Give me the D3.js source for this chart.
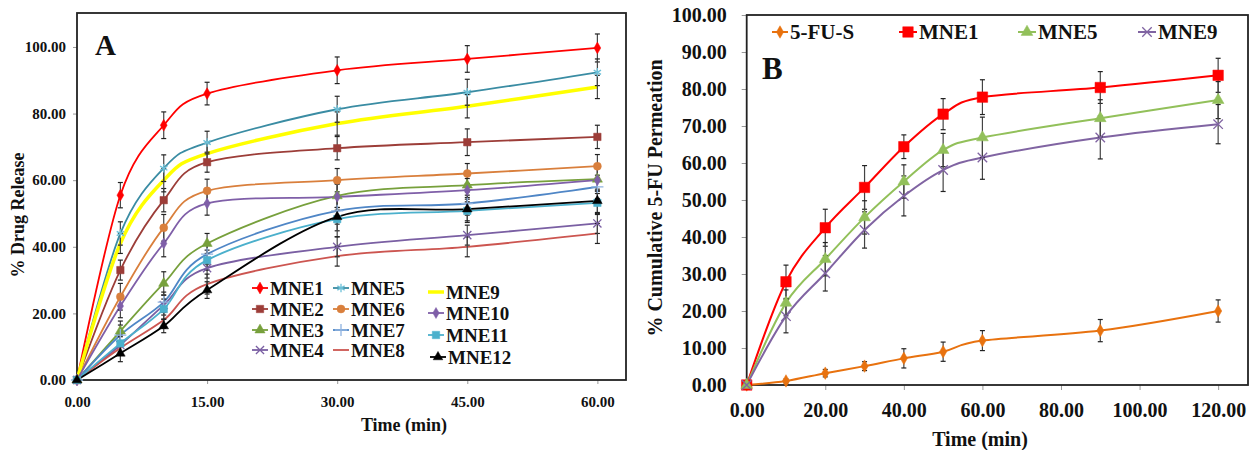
<!DOCTYPE html>
<html>
<head>
<meta charset="utf-8">
<script src="https://cdn.jsdelivr.net/npm/d3@7"></script>
<style>
  body { margin: 0; background: #fff; }
  svg text { font-family: "Liberation Serif", "Times New Roman", "DejaVu Serif", serif !important; font-weight: bold; fill: #111; }
</style>
</head>
<body>
<svg id="chart" width="1249" height="450"></svg>
<script>
// ---- panel A: drug release (min) ----
var timeA = [0, 5, 10, 15, 30, 45, 60];
var relMNE1  = [0, 55.5, 76.5, 86.0, 93.0, 96.4, 99.7];
var relMNE2  = [0, 33.0, 54.0, 65.4, 69.6, 71.4, 73.0];
var relMNE3  = [0, 14.7, 29.0, 41.0, 55.3, 58.5, 60.3];
var relMNE4  = [0, 10.5, 22.5, 33.6, 40.0, 43.5, 47.0];
var relMNE5  = [0, 44.0, 63.6, 71.3, 81.3, 86.4, 92.4];
var relMNE6  = [0, 25.0, 45.7, 56.8, 60.0, 62.0, 64.2];
var relMNE7  = [0, 13.5, 23.4, 37.8, 50.8, 53.0, 58.0];
var relMNE8  = [0, 9.6, 18.0, 28.8, 37.2, 40.0, 44.0];
var relMNE9  = [0, 41.0, 60.0, 68.0, 77.0, 82.2, 88.0];
var relMNE10 = [0, 22.2, 41.0, 53.0, 55.0, 57.0, 60.0];
var relMNE11 = [0, 11.0, 21.3, 36.0, 48.3, 50.8, 53.2];
var relMNE12 = [0, 8.0, 16.2, 27.0, 49.0, 51.3, 53.8];

var sdMNE1  = [0, 3.8, 4.0, 3.4, 4.0, 4.0, 4.2];
var sdMNE2  = [0, 3.0, 3.5, 3.0, 3.5, 4.0, 3.5];
var sdMNE3  = [0, 3.0, 3.5, 3.0, 3.5, 3.0, 3.5];
var sdMNE4  = [0, 2.5, 3.0, 3.0, 3.0, 3.0, 3.0];
var sdMNE5  = [0, 3.5, 4.0, 3.4, 3.9, 3.9, 4.0];
var sdMNE6  = [0, 4.0, 4.0, 3.5, 3.5, 3.0, 3.5];
var sdMNE7  = [0, 3.0, 3.0, 3.0, 4.0, 3.5, 3.5];
var sdMNE8  = [0, 2.0, 2.5, 3.0, 3.0, 3.0, 3.0];
var sdMNE9  = [0, 3.0, 3.5, 3.0, 3.5, 3.5, 3.5];
var sdMNE10 = [0, 3.5, 4.0, 3.5, 4.0, 3.5, 4.0];
var sdMNE11 = [0, 2.5, 3.0, 3.0, 3.5, 3.5, 3.5];
var sdMNE12 = [0, 2.5, 2.0, 2.5, 6.0, 3.5, 3.5];

var ticksAx = [0, 15, 30, 45, 60];
var ticksAy = [0, 20, 40, 60, 80, 100];

// ---- panel B: permeation (min) ----
var timeB = [0, 10, 20, 30, 40, 50, 60, 90, 120];
var permFUS  = [0, 1.1, 3.2, 5.1, 7.2, 9.0, 12.0, 14.7, 20.0];
var permMNE1 = [0, 27.9, 42.5, 53.4, 64.4, 73.2, 77.8, 80.4, 83.7];
var permMNE5 = [0, 22.2, 34.0, 45.3, 55.0, 63.5, 66.9, 72.1, 77.0];
var permMNE9 = [0, 18.6, 30.2, 41.9, 51.1, 58.1, 61.5, 66.9, 70.5];

var sdFUS   = [0, 0.5, 1.0, 1.2, 2.6, 2.6, 2.7, 3.0, 3.0];
var sdBMNE1 = [0, 4.5, 5.0, 5.9, 3.2, 4.2, 4.7, 4.3, 4.6];
var sdBMNE5 = [0, 3.5, 4.5, 4.5, 4.5, 4.5, 5.5, 5.0, 5.0];
var sdBMNE9 = [0, 4.5, 4.8, 4.9, 5.4, 5.8, 5.9, 5.8, 5.3];

var ticksBx = [0, 20, 40, 60, 80, 100, 120];
var ticksBy = [0, 10, 20, 30, 40, 50, 60, 70, 80, 90, 100];

var SERIF = '"Liberation Serif", "Times New Roman", serif';
var svg = d3.select("#chart");
var fmt = d3.format(".2f");
var curve = d3.curveCatmullRom.alpha(0);

var symTimes = d3.symbolTimes || d3.symbolX || d3.symbolCross;
var symPlus = d3.symbolPlus || d3.symbolCross;
var symAst = d3.symbolAsterisk || d3.symbolCross;
var strokeSyms = [symTimes, symPlus, symAst];

var seriesA = [
  { name: "MNE1",  v: relMNE1,  sd: sdMNE1,  color: "#ff0000", sym: d3.symbolDiamond,  size: 40, w: 1.8 },
  { name: "MNE2",  v: relMNE2,  sd: sdMNE2,  color: "#9c3d38", sym: d3.symbolSquare,   size: 55, w: 1.8 },
  { name: "MNE3",  v: relMNE3,  sd: sdMNE3,  color: "#77a03c", sym: d3.symbolTriangle, size: 45, w: 1.8 },
  { name: "MNE4",  v: relMNE4,  sd: sdMNE4,  color: "#7a5fa3", sym: symTimes,          size: 45, w: 1.8 },
  { name: "MNE5",  v: relMNE5,  sd: sdMNE5,  color: "#3a8ca3", sym: symAst,            size: 50, w: 1.8, mcolor: "#6cc0d8" },
  { name: "MNE6",  v: relMNE6,  sd: sdMNE6,  color: "#d97f3c", sym: d3.symbolCircle,   size: 50, w: 1.8 },
  { name: "MNE7",  v: relMNE7,  sd: sdMNE7,  color: "#4f86c6", sym: symPlus,           size: 50, w: 1.8, mcolor: "#8fb3e0" },
  { name: "MNE8",  v: relMNE8,  sd: sdMNE8,  color: "#cc5550", sym: null,              size: 0,  w: 1.8 },
  { name: "MNE9",  v: relMNE9,  sd: sdMNE9,  color: "#ffff00", sym: null,              size: 0,  w: 3.5 },
  { name: "MNE10", v: relMNE10, sd: sdMNE10, color: "#7f5fa8", sym: d3.symbolDiamond,  size: 35, w: 1.8 },
  { name: "MNE11", v: relMNE11, sd: sdMNE11, color: "#4bb0cc", sym: d3.symbolSquare,   size: 55, w: 1.8 },
  { name: "MNE12", v: relMNE12, sd: sdMNE12, color: "#000000", sym: d3.symbolTriangle, size: 40, w: 1.8 }
];

var seriesB = [
  { name: "5-FU-S", v: permFUS,  sd: sdFUS,   color: "#e8720f", sym: d3.symbolDiamond,  size: 45,  w: 2 },
  { name: "MNE1",   v: permMNE1, sd: sdBMNE1, color: "#ff0000", sym: d3.symbolSquare,   size: 110, w: 2 },
  { name: "MNE5",   v: permMNE5, sd: sdBMNE5, color: "#92c05a", sym: d3.symbolTriangle, size: 60,  w: 2 },
  { name: "MNE9",   v: permMNE9, sd: sdBMNE9, color: "#8064a2", sym: symTimes,          size: 60,  w: 2 }
];

function marker(g, s, x, y) {
  if (!s.sym) return;
  var stroke = strokeSyms.indexOf(s.sym) >= 0;
  var c = s.mcolor || s.color;
  g.append("path")
    .attr("d", d3.symbol().type(s.sym).size(s.size)())
    .attr("transform", "translate(" + x + "," + y + ")")
    .attr("fill", stroke ? "none" : c)
    .attr("stroke", c)
    .attr("stroke-width", stroke ? 1.3 : 0.5);
}

function label(sel, size) {
  return sel.attr("font-family", SERIF).attr("font-weight", "bold")
    .style("font-family", SERIF).style("font-weight", "bold").style("font-size", size + "px");
}

function drawPanel(opt) {
  var x = opt.x, y = opt.y;
  var g = svg.append("g");
  var x0 = x.range()[0], x1 = x.range()[1], y0 = y.range()[0], y1 = y.range()[1];

  var ax = g.append("g").attr("transform", "translate(0," + y0 + ")")
    .call(d3.axisBottom(x).tickValues(opt.xt).tickFormat(fmt).tickSize(opt.tick).tickPadding(opt.xpad));
  var ay = g.append("g").attr("transform", "translate(" + x0 + ",0)")
    .call(d3.axisLeft(y).tickValues(opt.yt).tickFormat(fmt).tickSize(opt.tick).tickPadding(opt.ypad));
  [ax, ay].forEach(function (a) {
    a.attr("font-family", SERIF);
    a.select(".domain").remove();
    a.selectAll(".tick line").attr("stroke", "#999");
    label(a.selectAll("text"), opt.tickFont).attr("fill", "#111");
  });

  g.append("rect").attr("x", x0).attr("y", y1).attr("width", x1 - x0).attr("height", y0 - y1)
    .attr("fill", "none").attr("stroke", "#222").attr("stroke-width", 1.8);

  var line = d3.line().x(function (d) { return x(d[0]); }).y(function (d) { return y(d[1]); }).curve(curve);
  var t = opt.time;

  opt.series.forEach(function (s) {
    g.append("path").datum(t.map(function (tt, i) { return [tt, s.v[i]]; }))
      .attr("d", line).attr("fill", "none").attr("stroke", s.color).attr("stroke-width", s.w);
  });

  opt.series.forEach(function (s) {
    t.forEach(function (tt, i) {
      if (!s.sd[i]) return;
      var cx = x(tt), ya = y(s.v[i] - s.sd[i]), yb = y(s.v[i] + s.sd[i]);
      g.append("line").attr("x1", cx).attr("x2", cx).attr("y1", ya).attr("y2", yb)
        .attr("stroke", "#444").attr("stroke-width", 1.2);
      [ya, yb].forEach(function (yy) {
        g.append("line").attr("x1", cx - 2.5).attr("x2", cx + 2.5).attr("y1", yy).attr("y2", yy)
          .attr("stroke", "#222").attr("stroke-width", 1.2);
      });
    });
  });

  opt.series.forEach(function (s) {
    t.forEach(function (tt, i) { marker(g, s, x(tt), y(s.v[i])); });
  });

  // legend
  opt.series.forEach(function (s, i) {
    var p = opt.legendPos[i];
    var lg = g.append("g");
    lg.append("line").attr("x1", p[0]).attr("x2", p[0] + p[2]).attr("y1", p[1]).attr("y2", p[1])
      .attr("stroke", s.color).attr("stroke-width", s.w);
    marker(lg, s, p[0] + p[2] / 2, p[1]);
    label(lg.append("text"), opt.legendFont)
      .attr("x", p[0] + p[2] + 2).attr("y", p[1]).attr("dy", "0.35em").text(s.name);
  });
}

drawPanel({
  x: d3.scaleLinear().domain([0, 63.3]).range([77, 626]),
  y: d3.scaleLinear().domain([0, 110.2]).range([380, 13]),
  xt: ticksAx, yt: ticksAy, time: timeA, series: seriesA,
  tick: 4, xpad: 12, ypad: 7, tickFont: 15, legendFont: 19,
  legendPos: [
    [252, 288, 16], [252, 309, 16], [252, 330, 16], [252, 350, 16],
    [333, 288, 16], [333, 309, 16], [333, 330, 16], [333, 350, 16],
    [428, 292, 16], [428, 313, 16], [428, 335, 16], [430, 357, 16]
  ]
});

drawPanel({
  x: d3.scaleLinear().domain([0, 127.6]).range([746.7, 1248]),
  y: d3.scaleLinear().domain([0, 100]).range([385, 15]),
  xt: ticksBx, yt: ticksBy, time: timeB, series: seriesB,
  tick: 5, xpad: 13, ypad: 15, tickFont: 20, legendFont: 21,
  legendPos: [[772, 32, 16], [899, 32, 18], [1018, 32, 18], [1138, 32, 18]]
});

// panel letters and axis titles
label(svg.append("text"), 29).attr("x", 95).attr("y", 55).text("A");
label(svg.append("text"), 31).attr("x", 762).attr("y", 79).text("B");

label(svg.append("text"), 18).attr("x", 404).attr("y", 431).attr("text-anchor", "middle").text("Time (min)");
label(svg.append("text"), 18).attr("transform", "translate(24,215) rotate(-90)").attr("text-anchor", "middle")
  .text("% Drug Release");

label(svg.append("text"), 20).attr("x", 980).attr("y", 446).attr("text-anchor", "middle").text("Time (min)");
label(svg.append("text"), 20).attr("transform", "translate(662,198) rotate(-90)").attr("text-anchor", "middle")
  .text("% Cumulative 5-FU Permeation");
</script>
</body>
</html>
